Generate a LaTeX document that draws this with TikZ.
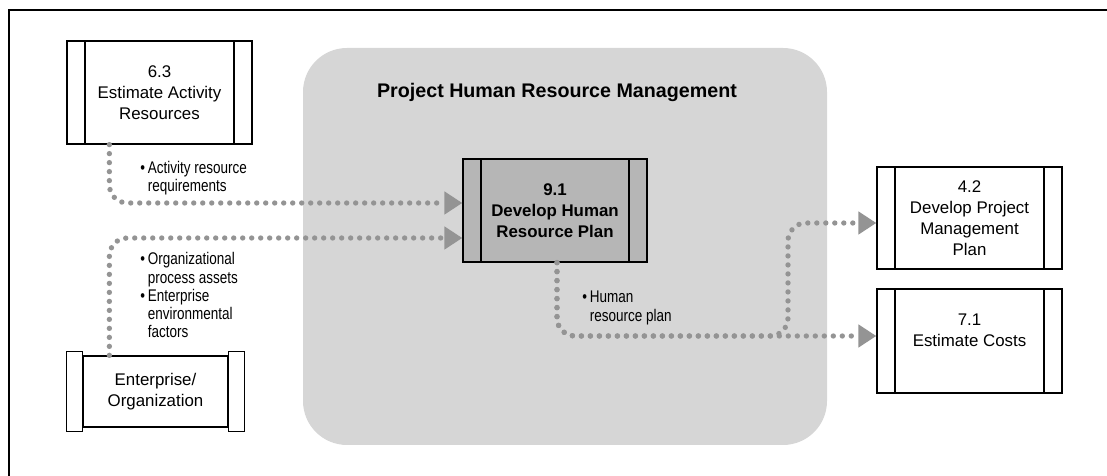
\documentclass[tikz,border=0pt]{standalone}
\usepackage{fontspec}
\setmainfont{Liberation Sans}
\newfontfamily\narrowfont[FakeStretch=0.8]{Liberation Sans}
\usetikzlibrary{arrows.meta,positioning,calc,backgrounds}
\definecolor{regiongray}{RGB}{214,214,214}
\definecolor{procgray}{RGB}{182,182,182}
\definecolor{dotgray}{RGB}{148,148,148}

\begin{document}
\begin{tikzpicture}[font=\fontsize{12}{15}\selectfont]
  \tikzset{
    flow/.style={draw=dotgray, line width=3.8pt, line cap=round, dash pattern=on 0pt off 6.4pt,
      rounded corners=0.45cm, -{Triangle[length=0.45cm, width=0.55cm, fill=dotgray, color=dotgray]}},
    proc/.style={draw, line width=0.9pt, fill=white, minimum width=4.625cm, minimum height=2.575cm,
      align=center, inner sep=0pt,
      path picture={
        \draw[line width=0.9pt] ([xshift=0.45cm]path picture bounding box.north west) -- ([xshift=0.45cm]path picture bounding box.south west);
        \draw[line width=0.9pt] ([xshift=-0.45cm]path picture bounding box.north east) -- ([xshift=-0.45cm]path picture bounding box.south east);
      }},
    bar/.style={draw, line width=0.9pt, fill=white},
    lbl/.style={anchor=north west, inner sep=0pt, font=\narrowfont\fontsize{12}{12.9}\selectfont}
  }
  \useasboundingbox (0,0) rectangle (27.675,11.9);

  % Frame
  \draw[line width=1.4pt] (0.225,0) -- (0.225,11.65) -- (27.675,11.65);

  % Background region
  \begin{scope}[on background layer]
    \fill[regiongray, rounded corners=1.1cm] (7.575,0.775) rectangle (20.675,10.7);
  \end{scope}
  \node[font=\fontsize{14}{17}\bfseries] (title) at (13.925,9.6) {Project Human Resource Management};

  % Main nodes
  \node[proc] (est) at (3.9875,9.5875) {6.3\\Estimate Activity\\Resources};
  \node[proc, fill=procgray, minimum width=4.6cm, font=\fontsize{12}{15}\bfseries] (hrp) at (13.875,6.6375) {9.1\\Develop Human\\Resource Plan};
  \node[proc, minimum height=2.55cm] (pmp) at (24.2375,6.45) {4.2\\Develop Project\\Management\\Plan};
  \node[proc, minimum height=2.6cm] (cost) at (24.2375,3.375) {7.1\\Estimate Costs\\[1pt]};

  \node[draw, line width=0.9pt, fill=white, minimum width=3.625cm, minimum height=1.775cm, align=center] (ent) at (3.8875,2.1125) {Enterprise/\\Organization};
  \draw[bar] ([yshift=0.1cm]ent.north west) rectangle ([xshift=-0.4cm,yshift=-0.1cm]ent.south west);
  \draw[bar] ([yshift=0.1cm]ent.north east) rectangle ([xshift=0.4cm,yshift=-0.1cm]ent.south east);

  % Labels
  \node[lbl] (lblact) at (3.5,7.88) {\begin{tabular}{@{}l@{\,}l@{}}\textbullet & Activity resource\\ & requirements\end{tabular}};
  \node[lbl] (lblorg) at (3.5,5.6) {\begin{tabular}{@{}l@{\,}l@{}}\textbullet & Organizational\\ & process assets\\ \textbullet & Enterprise\\ & environmental\\ & factors\end{tabular}};
  \node[lbl] (lblhrp) at (14.55,4.65) {\begin{tabular}{@{}l@{\,}l@{}}\textbullet & Human\\ & resource plan\end{tabular}};

  % Flow arrows
  \coordinate (bend) at (19.7,3.5);
  \draw[flow] ([xshift=1.075cm]est.south west) |- ([yshift=0.1875cm]hrp.west);
  \draw[flow] ([xshift=0.675cm]ent.north west) |- ([yshift=-0.6875cm]hrp.west);
  \draw[flow] ([xshift=0.05cm]hrp.south) |- ([yshift=0.125cm]cost.west);
  \draw[flow] ([xshift=0.05cm]hrp.south) |- (bend) |- ([yshift=-0.125cm]pmp.west);

\end{tikzpicture}
\end{document}
